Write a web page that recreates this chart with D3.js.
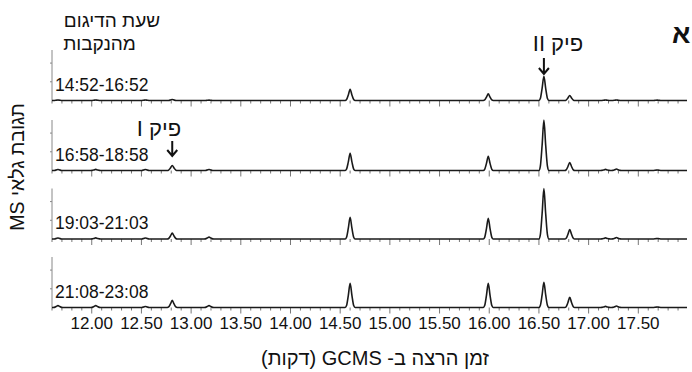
<!DOCTYPE html>
<html>
<head>
<meta charset="utf-8">
<script src="https://cdn.jsdelivr.net/npm/d3@7"></script>
<style>
    body { margin: 0; background: #fff; }
    svg text { font-family: "Liberation Sans", Arial, sans-serif; fill: #111; }
</style>
</head>
<body>
<div class="plot"></div>
<script>
"use strict";

// retention times of the peaks (minutes)
var peakTimes = [11.66, 12.04, 12.54, 12.81, 13.18, 14.60, 15.99, 16.55, 16.81, 17.17, 17.28, 17.69];

// sampling hour labels, one per panel
var sampleLabels = ["14:52-16:52", "16:58-18:58", "19:03-21:03", "21:08-23:08"];

// peak heights per panel (detector units)
var heights1 = [0.03, 0.03, 0.03, 0.05, 0.02, 0.60, 0.36, 1.30, 0.27, 0.03, 0.03, 0.02];
var heights2 = [0.05, 0.06, 0.05, 0.27, 0.05, 0.92, 0.76, 2.70, 0.43, 0.06, 0.08, 0.03];
var heights3 = [0.05, 0.06, 0.05, 0.32, 0.10, 1.16, 1.11, 2.70, 0.51, 0.06, 0.08, 0.03];
var heights4 = [0.10, 0.10, 0.05, 0.38, 0.10, 1.30, 1.30, 1.35, 0.54, 0.06, 0.08, 0.03];
var panelHeights = [heights1, heights2, heights3, heights4];

// shape of one peak: offset from apex (min), fraction of the height
var peakShape = [[-0.05, 0], [-0.036, 0.08], [-0.018, 0.5], [0, 1], [0.018, 0.5], [0.036, 0.08], [0.05, 0]];

// x axis
var xDomain = [11.6, 17.99];
var xTickLabels = [12, 12.5, 13, 13.5, 14, 14.5, 15, 15.5, 16, 16.5, 17, 17.5];
var yTicks = [0, 1, 2];

var width = 692, height = 372;
var left = 52, right = 687;
var panelTop = [50, 120, 188.5, 257];
var panelH = 50.5;

var svg = d3.select(".plot")
    .append("svg")
    .attr("width", width)
    .attr("height", height);

var x = d3.scaleLinear().domain(xDomain).range([left, right]);

var line = d3.line()
    .x(d => x(d[0]))
    .y(d => d[1])
    .curve(d3.curveMonotoneX);

panelHeights.forEach((hs, i) => {
    var y = d3.scaleLinear().domain([0, 2.7]).range([panelTop[i] + panelH, panelTop[i]]);
    var base = y(0);

    // left axis (grey)
    svg.append("line")
        .attr("x1", left).attr("x2", left)
        .attr("y1", panelTop[i]).attr("y2", base)
        .attr("stroke", "#888").attr("stroke-width", 1);
    svg.selectAll()
        .data(yTicks.slice(1))
        .enter()
        .append("line")
        .attr("x1", left - 2).attr("x2", left)
        .attr("y1", d => y(d)).attr("y2", d => y(d))
        .attr("stroke", "#888").attr("stroke-width", 1);

    // bottom ticks every 0.1 min, longer every 0.5
    var minor = d3.range(116, 180).map(d => d / 10);
    svg.selectAll()
        .data(minor)
        .enter()
        .append("line")
        .attr("x1", d => x(d)).attr("x2", d => x(d))
        .attr("y1", base)
        .attr("y2", d => Math.abs(d * 2 - Math.round(d * 2)) < 1e-6 ? base + 6 : base + 3)
        .attr("stroke", "#777").attr("stroke-width", 1);

    // trace
    var pts = [[xDomain[0], 0]];
    peakTimes.forEach((t, k) => {
        peakShape.forEach(s => pts.push([t + s[0], hs[k] * s[1]]));
    });
    pts.push([xDomain[1], 0]);
    pts = pts.map(p => [p[0], y(p[1])]);

    svg.append("path")
        .attr("d", line(pts))
        .attr("fill", "none")
        .attr("stroke", "#1a1a1a")
        .attr("stroke-width", 1.6)
        .attr("stroke-linejoin", "round");

    svg.append("text")
        .attr("x", left + 3)
        .attr("y", base - 10)
        .attr("font-size", 17.5)
        .text(sampleLabels[i]);

    if (i === panelHeights.length - 1) {
        svg.selectAll()
            .data(xTickLabels)
            .enter()
            .append("text")
            .attr("x", d => x(d))
            .attr("y", base + 21)
            .attr("text-anchor", "middle")
            .attr("font-size", 17)
            .attr("fill", "#222")
            .text(d => d3.format(".2f")(d));
    }
});

// arrows for peak I and peak II
function arrow(xp, y1, y2) {
    svg.append("path")
        .attr("d", `M${xp},${y1}L${xp},${y2}M${xp - 5},${y2 - 6}L${xp},${y2}L${xp + 5},${y2 - 6}`)
        .attr("fill", "none")
        .attr("stroke", "#111")
        .attr("stroke-width", 2);
}
arrow(x(peakTimes[7]), 58, 74);
arrow(x(peakTimes[3]), 141, 156);

// hebrew text, drawn right to left and centred
function rtlText(cx, cy, size, s) {
    return svg.append("text")
        .attr("x", cx).attr("y", cy)
        .attr("direction", "rtl")
        .attr("unicode-bidi", "embed")
        .attr("text-anchor", "middle")
        .attr("font-size", size)
        .text(s);
}

rtlText(558, 51, 22, "פיק II");
rtlText(159, 136, 22, "פיק I");

rtlText(112, 27, 19, "שעת הדיגום");
rtlText(99.5, 50, 19, "מהנקבות");

svg.append("text")
    .attr("x", 672).attr("y", 43)
    .attr("font-size", 27)
    .attr("font-weight", "bold")
    .text("א");

// axis titles
rtlText(0, 0, 19.5, "תגובת גלאי MS")
    .attr("x", null).attr("y", null)
    .attr("transform", "translate(24,167) rotate(-90)");

rtlText(375, 365, 20, "זמן הרצה ב- GCMS (דקות)");
</script>
</body>
</html>
